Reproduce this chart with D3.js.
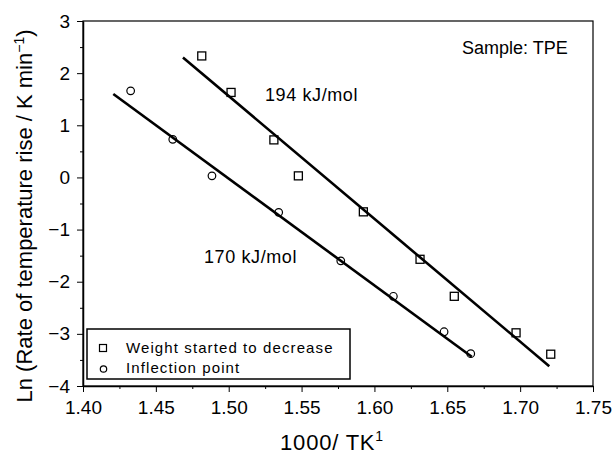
<!DOCTYPE html>
<html>
<head>
<meta charset="utf-8">
<script src="https://cdn.jsdelivr.net/npm/d3@7"></script>
<style>
  body { margin: 0; background: #fff; }
  text { font-family: "Liberation Sans", Arial, sans-serif; fill: #000; }
</style>
</head>
<body>
<div id="chart"></div>
<script>
// weight started to decrease (squares)
const squareX = [1.4815, 1.5016, 1.531, 1.5478, 1.5924, 1.6313, 1.6548, 1.6972, 1.721];
const squareY = [2.33, 1.63, 0.72, 0.03, -0.66, -1.57, -2.28, -2.98, -3.39];
// inflection point (circles)
const circleX = [1.4327, 1.4616, 1.4885, 1.5343, 1.5769, 1.613, 1.6478, 1.6661];
const circleY = [1.66, 0.73, 0.03, -0.67, -1.60, -2.28, -2.96, -3.38];
// fitted lines (end points)
const fitSquareX = [1.4686, 1.72];
const fitSquareY = [2.30, -3.62];
const fitCircleX = [1.4208, 1.6668];
const fitCircleY = [1.60, -3.44];

const xTicks = [1.40, 1.45, 1.50, 1.55, 1.60, 1.65, 1.70, 1.75];
const yTicks = [-4, -3, -2, -1, 0, 1, 2, 3];
const xMinor = [1.425, 1.475, 1.525, 1.575, 1.625, 1.675, 1.725];
const yMinor = [-3.5, -2.5, -1.5, -0.5, 0.5, 1.5, 2.5];

const W = 613, H = 454;
const margin = { top: 21, right: 20, bottom: 68, left: 83 };
const width = W - margin.left - margin.right;
const height = H - margin.top - margin.bottom;

const svg = d3.select('#chart')
    .append('svg')
    .attr('width', W)
    .attr('height', H);

const g = svg.append('g')
    .attr('transform', `translate(${margin.left}, ${margin.top})`);

const x = d3.scaleLinear().domain([1.40, 1.75]).range([0, width]);
const y = d3.scaleLinear().domain([-4, 3]).range([height, 0]);

// frame
g.append('rect')
    .attr('width', width)
    .attr('height', height)
    .attr('fill', 'none')
    .attr('stroke', '#000')
    .attr('stroke-width', 1.2);

// minor ticks
g.append('g')
    .attr('transform', `translate(0, ${height})`)
    .call(d3.axisBottom(x).tickValues(xMinor).tickSize(3).tickSizeOuter(0).tickFormat(''))
    .call(a => a.select('.domain').remove());
g.append('g')
    .call(d3.axisLeft(y).tickValues(yMinor).tickSize(3).tickSizeOuter(0).tickFormat(''))
    .call(a => a.select('.domain').remove());

// major axes
const xAxis = g.append('g')
    .attr('transform', `translate(0, ${height})`)
    .call(d3.axisBottom(x).tickValues(xTicks).tickSize(6).tickSizeOuter(0)
        .tickPadding(9).tickFormat(d3.format('.2f')));
const yAxis = g.append('g')
    .call(d3.axisLeft(y).tickValues(yTicks).tickSize(6).tickSizeOuter(0)
        .tickPadding(7).tickFormat(d => d < 0 ? '\u2212' + Math.abs(d) : d));

[xAxis, yAxis].forEach(a => {
    a.selectAll('.domain').attr('stroke-width', 1.5);
    a.selectAll('text')
        .style('font-family', '"Liberation Sans", Arial, sans-serif')
        .style('font-size', '19px')
        .attr('fill', '#000');
});

// fit lines
const line = d3.line().x(d => x(d[0])).y(d => y(d[1]));
g.append('path')
    .datum(d3.zip(fitSquareX, fitSquareY))
    .attr('d', line)
    .attr('stroke', '#000')
    .attr('stroke-width', 2.6)
    .attr('fill', 'none');
g.append('path')
    .datum(d3.zip(fitCircleX, fitCircleY))
    .attr('d', line)
    .attr('stroke', '#000')
    .attr('stroke-width', 2.6)
    .attr('fill', 'none');

// markers
g.selectAll('.sq')
    .data(d3.zip(squareX, squareY))
    .enter()
    .append('rect')
    .attr('class', 'sq')
    .attr('x', d => x(d[0]) - 4)
    .attr('y', d => y(d[1]) - 4)
    .attr('width', 8)
    .attr('height', 8)
    .attr('fill', 'none')
    .attr('stroke', '#000')
    .attr('stroke-width', 1.3);

g.selectAll('.ci')
    .data(d3.zip(circleX, circleY))
    .enter()
    .append('circle')
    .attr('class', 'ci')
    .attr('cx', d => x(d[0]))
    .attr('cy', d => y(d[1]))
    .attr('r', 3.8)
    .attr('fill', 'none')
    .attr('stroke', '#000')
    .attr('stroke-width', 1.2);

// annotations
g.append('text')
    .attr('x', 182)
    .attr('y', 80)
    .style('font-size', '18px')
    .style('letter-spacing', '0.6px')
    .text('194 kJ/mol');
g.append('text')
    .attr('x', 121)
    .attr('y', 242)
    .style('font-size', '18px')
    .style('letter-spacing', '0.6px')
    .text('170 kJ/mol');
g.append('text')
    .attr('x', 379)
    .attr('y', 33)
    .style('font-size', '18px')
    .text('Sample: TPE');

// legend
const leg = g.append('g').attr('transform', 'translate(4, 308)');
leg.append('rect')
    .attr('width', 263)
    .attr('height', 50)
    .attr('fill', '#fff')
    .attr('stroke', '#000')
    .attr('stroke-width', 1.5);
leg.append('rect')
    .attr('x', 12.5).attr('y', 15.5)
    .attr('width', 7).attr('height', 7)
    .attr('fill', 'none').attr('stroke', '#000').attr('stroke-width', 1.2);
leg.append('circle')
    .attr('cx', 16.5).attr('cy', 40)
    .attr('r', 3.2)
    .attr('fill', 'none').attr('stroke', '#000').attr('stroke-width', 1.2);
leg.append('text')
    .attr('x', 39).attr('y', 24)
    .style('font-size', '15px')
    .style('letter-spacing', '1.1px')
    .text('Weight started to decrease');
leg.append('text')
    .attr('x', 39).attr('y', 44)
    .style('font-size', '15px')
    .style('letter-spacing', '1.1px')
    .text('Inflection point');

// axis titles
const xt = svg.append('text')
    .attr('x', 332)
    .attr('y', 450)
    .attr('text-anchor', 'middle')
    .style('font-size', '22px')
    .style('letter-spacing', '0.8px');
xt.append('tspan').text('1000/ TK');
xt.append('tspan').attr('dy', -9).style('font-size', '14px').text('1');

const yt = svg.append('text')
    .attr('transform', 'translate(32, 216) rotate(-90)')
    .attr('text-anchor', 'middle')
    .style('font-size', '22px');
yt.append('tspan').text('Ln (Rate of temperature rise / K min');
yt.append('tspan').attr('dy', -8).style('font-size', '14px').text('\u22121');
yt.append('tspan').attr('dy', 8).text(')');
</script>
</body>
</html>
